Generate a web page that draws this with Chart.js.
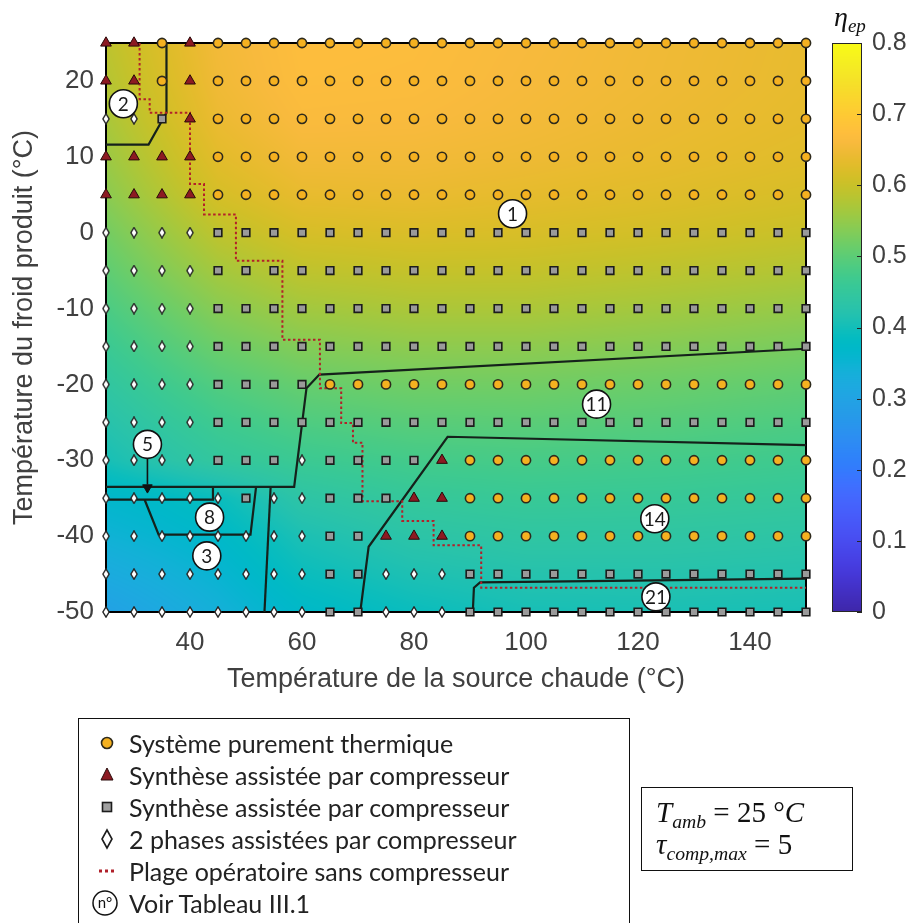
<!DOCTYPE html>
<html><head><meta charset="utf-8">
<script src="https://cdn.jsdelivr.net/npm/chart.js@4/dist/chart.umd.min.js"></script>
<style>
html,body{margin:0;padding:0;background:#fff;}
#wrap{position:relative;width:922px;height:923px;overflow:hidden;background:#fff;}
#c{position:absolute;left:0;top:0;}
#legend{position:absolute;left:78px;top:718px;width:552px;height:215px;border:1.5px solid #111;box-sizing:border-box;font-family:Lato,'Open Sans',sans-serif;font-size:25px;color:#222;}
#legend .it{position:absolute;left:0;height:32px;line-height:32px;white-space:nowrap;}
#legend svg{position:absolute;left:16px;top:4px;}
#legend span{position:absolute;left:50px;top:0;}
#note{position:absolute;left:641px;top:787px;width:212px;height:84px;border:1.5px solid #111;box-sizing:border-box;font-family:'Liberation Serif','DejaVu Serif',serif;font-size:29px;color:#111;}
#note div{position:absolute;left:14px;white-space:nowrap;}
.i{font-style:italic;}
sub{font-size:68%;vertical-align:-0.3em;line-height:0;}
#eta{position:absolute;left:834px;top:1px;font-family:'Liberation Serif','DejaVu Serif',serif;font-size:28px;font-style:italic;color:#111;}
</style></head>
<body><div id="wrap">
<canvas id="c" width="922" height="923"></canvas>
<div id="eta">η<sub>ep</sub></div>
<div id="legend">
 <div class="it" style="top:8px"><svg width="24" height="24"><circle cx="12" cy="12" r="5.5" fill="#f5b120" stroke="#2e2a1c" stroke-width="1.6"/></svg><span>Système purement thermique</span></div>
 <div class="it" style="top:40px"><svg width="24" height="24"><polygon points="12,5 18,17 6,17" fill="#8c1a22" stroke="#2a0a0a" stroke-width="1"/></svg><span>Synthèse assistée par compresseur</span></div>
 <div class="it" style="top:72px"><svg width="24" height="24"><rect x="7.5" y="7.5" width="9" height="9" fill="#a0a0a0" stroke="#1c1c1c" stroke-width="1.6"/></svg><span>Synthèse assistée par compresseur</span></div>
 <div class="it" style="top:104px"><svg width="24" height="24"><polygon points="12,3 17,12 12,21 7,12" fill="#fff" stroke="#1c1c1c" stroke-width="1.6"/></svg><span>2 phases assistées par compresseur</span></div>
 <div class="it" style="top:136px"><svg width="24" height="24"><line x1="4" y1="12" x2="21" y2="12" stroke="#b0202a" stroke-width="3" stroke-dasharray="3,3"/></svg><span>Plage opératoire sans compresseur</span></div>
 <div class="it" style="top:168px"><svg width="30" height="30" style="left:12px;top:1px"><circle cx="14" cy="15" r="12" fill="#fff" stroke="#111" stroke-width="1.5"/><text x="14" y="20" text-anchor="middle" font-family="Lato,sans-serif" font-size="15" fill="#111">n°</text></svg><span>Voir Tableau III.1</span></div>
</div>
<div id="note">
 <div style="top:8px"><span class="i">T</span><sub class="i">amb</sub> = 25 °<span class="i">C</span></div>
 <div style="top:40px"><span class="i">τ</span><sub class="i">comp,max</sub> = 5</div>
</div>
</div>
<script>
// ---------- DATA ----------
const tempChaude = [25,30,35,40,45,50,55,60,65,70,75,80,85,90,95,100,105,110,115,120,125,130,135,140,145,150];
const tempFroid = [25,20,15,10,5,0,-5,-10,-15,-20,-25,-30,-35,-40,-45,-50];
// C = purement thermique, T = synthese (triangle), S = synthese (carre), D = 2 phases
const markerRows = [
 "TTCTCCCCCCCCCCCCCCCCCCCCCC",
 "TTCTCCCCCCCCCCCCCCCCCCCCCC",
 "DDSTCCCCCCCCCCCCCCCCCCCCCC",
 "TTTTCCCCCCCCCCCCCCCCCCCCCC",
 "TTTTCCCCCCCCCCCCCCCCCCCCCC",
 "DDDDSSSSSSSSSSSSSSSSSSSSSS",
 "DDDDSSSSSSSSSSSSSSSSSSSSSS",
 "DDDDSSSSSSSSSSSSSSSSSSSSSS",
 "DDDDSSSSSSSSSSSSSSSSSSSSSS",
 "DDDDSSSSCCCCCCCCCCCCCCCCCC",
 "DDDDSSSSSSSSSSSSSSSSSSSSSS",
 "DDDDSSSDSSSSTCCCCCCCCCCCCC",
 "DDDDDSDDSSSTTCCCCCCCCCCCCC",
 "DDDDDDDDSSTTTCCCCCCCCCCCCC",
 "DDDDDDDDSSDDDSSSSSSSSSSSSS",
 "DDDDDDDDSSDDDSSSSSSSSSSSSS"
];
const xTicks = [40,60,80,100,120,140];
const yTicks = [-50,-40,-30,-20,-10,0,10,20];
const cbTicks = [0,0.1,0.2,0.3,0.4,0.5,0.6,0.7,0.8];
// eta_ep field (rows = tempFroid, cols = heatCols)
const heatCols = [25,35,45,60,80,100,125,150];
const etaGrid = [
 [0.588,0.622,0.652,0.672,0.670,0.660,0.648,0.637],
 [0.580,0.616,0.649,0.670,0.668,0.658,0.647,0.636],
 [0.570,0.607,0.642,0.664,0.662,0.654,0.643,0.633],
 [0.557,0.594,0.630,0.652,0.652,0.646,0.637,0.627],
 [0.542,0.578,0.614,0.637,0.640,0.634,0.626,0.616],
 [0.522,0.556,0.590,0.615,0.620,0.617,0.610,0.600],
 [0.503,0.535,0.565,0.590,0.597,0.596,0.588,0.578],
 [0.483,0.512,0.540,0.563,0.572,0.572,0.563,0.552],
 [0.463,0.490,0.515,0.536,0.545,0.545,0.537,0.527],
 [0.443,0.468,0.490,0.510,0.520,0.521,0.514,0.505],
 [0.424,0.447,0.468,0.487,0.497,0.499,0.494,0.486],
 [0.405,0.428,0.448,0.464,0.475,0.479,0.475,0.469],
 [0.365,0.376,0.392,0.435,0.453,0.459,0.457,0.452],
 [0.345,0.357,0.371,0.410,0.432,0.440,0.439,0.435],
 [0.322,0.337,0.354,0.392,0.412,0.422,0.423,0.420],
 [0.295,0.317,0.338,0.372,0.392,0.405,0.408,0.406]
];
// region boundaries (solid)
const zone2Line = [{x:35.8,y:25},{x:35.8,y:15.8},{x:32.6,y:11.6},{x:25,y:11.6}];
const zoneALine = [{x:25,y:-33.5},{x:58.6,y:-33.5},{x:60.8,y:-20.5},{x:63.1,y:-18.7},{x:150,y:-15.3}];
const zoneBLine = [{x:70.4,y:-50},{x:71.9,y:-41.4},{x:86.0,y:-26.9},{x:150,y:-28.0}];
const zoneCLine = [{x:90.5,y:-50},{x:90.7,y:-46.8},{x:91.8,y:-46.1},{x:150,y:-45.6}];
const zoneDLine = [{x:54.4,y:-33.5},{x:53.3,y:-50}];
const zone8Line = [{x:25,y:-35.2},{x:44.1,y:-35.2},{x:44.1,y:-33.5}];
const zone3Line = [{x:31.9,y:-35.2},{x:34.4,y:-39.8},{x:50.8,y:-39.8},{x:51.8,y:-33.5}];
// operating range without compressor (dotted)
const plageLine = [{x:31,y:25},{x:31,y:17.6},{x:32.8,y:17.6},{x:32.8,y:15.8},{x:40,y:15.8},{x:40,y:6.4},{x:42.5,y:6.4},{x:42.5,y:2.4},{x:48.2,y:2.4},{x:48.2,y:-3.7},{x:56.5,y:-3.7},{x:56.5,y:-14.1},{x:63.2,y:-14.1},{x:63.2,y:-20.5},{x:67,y:-20.5},{x:67,y:-25.1},{x:69.1,y:-25.1},{x:69.1,y:-27.7},{x:70.8,y:-27.7},{x:70.8,y:-35.4},{x:77.9,y:-35.4},{x:77.9,y:-38},{x:83.5,y:-38},{x:83.5,y:-41.2},{x:92,y:-41.2},{x:92,y:-46.8},{x:150,y:-46.8}];
// numbered labels (Voir Tableau III.1)
const labelNums = ['1','2','5','8','3','11','14','21'];
const labelX = [97.6,28.1,32.4,43.5,43.0,112.6,123.0,123.2];
const labelY = [2.5,17.0,-27.9,-37.5,-42.6,-22.6,-37.7,-48.0];
const arrowLine = [{x:32.4,y:-29.7},{x:32.4,y:-33.2}];
const arrowHead = [{x:32.4,y:-33.6}];

// ---------- STYLE ----------
const parula = [[0.2422,0.1504,0.6603],[0.2504,0.1650,0.7076],[0.2578,0.1818,0.7511],[0.2647,0.1978,0.7952],[0.2706,0.2147,0.8364],[0.2751,0.2342,0.8710],[0.2783,0.2559,0.8991],[0.2803,0.2782,0.9221],[0.2813,0.3006,0.9414],[0.2810,0.3228,0.9579],[0.2795,0.3447,0.9717],[0.2760,0.3667,0.9829],[0.2699,0.3892,0.9906],[0.2602,0.4123,0.9952],[0.2440,0.4358,0.9988],[0.2206,0.4603,0.9973],[0.1963,0.4847,0.9892],[0.1834,0.5074,0.9798],[0.1786,0.5289,0.9682],[0.1764,0.5499,0.9520],[0.1687,0.5703,0.9359],[0.1540,0.5902,0.9218],[0.1460,0.6091,0.9079],[0.1380,0.6276,0.8973],[0.1248,0.6459,0.8883],[0.1113,0.6635,0.8763],[0.0952,0.6798,0.8598],[0.0689,0.6948,0.8394],[0.0297,0.7082,0.8163],[0.0036,0.7203,0.7917],[0.0067,0.7312,0.7660],[0.0433,0.7411,0.7394],[0.0964,0.7500,0.7120],[0.1408,0.7584,0.6842],[0.1717,0.7670,0.6554],[0.1938,0.7758,0.6251],[0.2161,0.7843,0.5923],[0.2470,0.7918,0.5567],[0.2906,0.7973,0.5188],[0.3406,0.8008,0.4789],[0.3909,0.8029,0.4354],[0.4456,0.8024,0.3909],[0.5044,0.7993,0.3480],[0.5616,0.7942,0.3045],[0.6174,0.7876,0.2612],[0.6720,0.7793,0.2227],[0.7242,0.7698,0.1910],[0.7738,0.7598,0.1646],[0.8203,0.7498,0.1535],[0.8634,0.7406,0.1596],[0.9035,0.7330,0.1774],[0.9393,0.7288,0.2100],[0.9728,0.7298,0.2394],[0.9956,0.7434,0.2371],[0.9970,0.7659,0.2199],[0.9952,0.7893,0.2028],[0.9892,0.8136,0.1885],[0.9786,0.8386,0.1766],[0.9676,0.8639,0.1643],[0.9610,0.8890,0.1537],[0.9597,0.9135,0.1423],[0.9628,0.9373,0.1265],[0.9691,0.9606,0.1064],[0.9769,0.9839,0.0805]];
const ETA_MAX = 0.8;
function cmap(v){
  let t = Math.max(0, Math.min(1, v/ETA_MAX))*63;
  const i = Math.min(62, Math.floor(t)), f = t - i;
  const a = parula[i], b = parula[i+1];
  return [0,1,2].map(k => Math.round(255*(a[k]+(b[k]-a[k])*f)));
}
function etaAt(tc, tf){
  // bilinear shading between the read grid values
  let j = 0; while (j < heatCols.length-2 && tc > heatCols[j+1]) j++;
  let fx = (tc - heatCols[j])/(heatCols[j+1]-heatCols[j]); fx = Math.max(0,Math.min(1,fx));
  let i = 0; while (i < tempFroid.length-2 && tf < tempFroid[i+1]) i++;
  let fy = (tempFroid[i]-tf)/(tempFroid[i]-tempFroid[i+1]); fy = Math.max(0,Math.min(1,fy));
  const g = etaGrid;
  const top = g[i][j]+(g[i][j+1]-g[i][j])*fx, bot = g[i+1][j]+(g[i+1][j+1]-g[i+1][j])*fx;
  return top + (bot-top)*fy;
}

function diamondCanvas(w,h,lw){
  const c = document.createElement('canvas'); c.width=w; c.height=h;
  const g = c.getContext('2d');
  g.beginPath(); g.moveTo(w/2,lw/2+0.2); g.lineTo(w-lw/2-0.2,h/2); g.lineTo(w/2,h-lw/2-0.2); g.lineTo(lw/2+0.2,h/2); g.closePath();
  g.fillStyle='#ffffff'; g.fill(); g.lineWidth=lw; g.strokeStyle='#262626'; g.stroke();
  return c;
}
const diamondImg = diamondCanvas(8,12,1.4);

const typeStyle = {
  C:{style:'circle', r:4.6, bg:'#f5b120', bd:'#2e2a1c', bw:1.6},
  T:{style:'triangle', r:6.2, bg:'#8c1a22', bd:'#2a0a0a', bw:1},
  S:{style:'rect', r:5.4, bg:'#9a9a9a', bd:'#1c1c1c', bw:1.6},
  D:{style:diamondImg, r:6, bg:'#fff', bd:'#262626', bw:1.4}
};
const pts = {C:[],T:[],S:[],D:[]};
markerRows.forEach((row,i)=>{ for (let j=0;j<row.length;j++) pts[row[j]].push({x:tempChaude[j], y:tempFroid[i]}); });

const lineDs = (data, color, width, dash, order) => ({data, showLine:true, borderColor:color, borderWidth:width, borderDash:dash||[], pointRadius:0, fill:false, tension:0, order, xAxisID:'x', yAxisID:'y', clip:false});
const datasets = [];
[zone2Line,zoneALine,zoneBLine,zoneCLine,zoneDLine,zone8Line,zone3Line].forEach(d=>datasets.push(lineDs(d,'#15211b',2.2,null,30)));
datasets.push(lineDs(plageLine,'#b3202a',2,[2.5,2.5],25));
['D','S','T','C'].forEach(k=>{
  const s = typeStyle[k];
  datasets.push({data:pts[k], pointStyle:s.style, pointRadius:s.r, pointHoverRadius:s.r, pointBackgroundColor:s.bg, pointBorderColor:s.bd, pointBorderWidth:s.bw, showLine:false, order:10, clip:false, xAxisID:'x', yAxisID:'y'});
});
datasets.push(lineDs(arrowLine,'#111',1.6,null,6));
datasets.push({data:arrowHead, pointStyle:'triangle', rotation:180, pointRadius:5.5, pointBackgroundColor:'#111', pointBorderColor:'#111', pointBorderWidth:1, order:5, clip:false, xAxisID:'x', yAxisID:'y'});
datasets.push({data:labelX.map((x,i)=>({x, y:labelY[i]})), pointStyle:'circle', pointRadius:14, pointBackgroundColor:'#fff', pointBorderColor:'#111', pointBorderWidth:1.6, order:1, clip:false, xAxisID:'x', yAxisID:'y'});

const heatPlugin = {
  id:'heat',
  beforeDatasetsDraw(chart){
    const {ctx, chartArea:a, scales:{x,y,cb}} = chart;
    const w = Math.round(a.right-a.left), h = Math.round(a.bottom-a.top);
    if (!chart.$heat){
      const off = document.createElement('canvas'); off.width=w; off.height=h;
      const o = off.getContext('2d'); const img = o.createImageData(w,h);
      for (let py=0; py<h; py++){
        const tf = y.getValueForPixel(a.top+py+0.5);
        for (let px=0; px<w; px++){
          const tc = x.getValueForPixel(a.left+px+0.5);
          const c = cmap(etaAt(tc,tf)); const k=(py*w+px)*4;
          img.data[k]=c[0]; img.data[k+1]=c[1]; img.data[k+2]=c[2]; img.data[k+3]=255;
        }
      }
      o.putImageData(img,0,0); chart.$heat = off;
    }
    ctx.drawImage(chart.$heat, a.left, a.top);
    // colour bar
    const bx0 = 832, bx1 = 862;
    for (let py=Math.round(cb.top); py<Math.round(cb.bottom); py++){
      const c = cmap(cb.getValueForPixel(py+0.5));
      ctx.fillStyle = `rgb(${c[0]},${c[1]},${c[2]})`; ctx.fillRect(bx0, py, bx1-bx0, 1);
    }
    ctx.save(); ctx.strokeStyle='#262626'; ctx.lineWidth=1;
    ctx.strokeRect(bx0+0.5, cb.top+0.5, bx1-bx0-1, cb.bottom-cb.top-1);
    cbTicks.forEach(v=>{ const p=Math.round(cb.getPixelForValue(v))+0.5; ctx.beginPath(); ctx.moveTo(bx1-5,p); ctx.lineTo(bx1,p); ctx.stroke(); });
    // axes box
    ctx.strokeStyle='#000'; ctx.lineWidth=2;
    ctx.strokeRect(a.left, a.top, a.right-a.left, a.bottom-a.top);
    ctx.restore();
  },
  afterDatasetsDraw(chart){
    const {ctx, scales:{x,y}} = chart;
    ctx.save(); ctx.fillStyle='#1a1a1a'; ctx.font='19px Lato, sans-serif'; ctx.textAlign='center'; ctx.textBaseline='middle';
    labelNums.forEach((n,i)=>ctx.fillText(n, x.getPixelForValue(labelX[i]), y.getPixelForValue(labelY[i])+1));
    ctx.restore();
  }
};

const axisFont = {family:"'Liberation Sans', Arial, sans-serif", size:26};
new Chart(document.getElementById('c'), {
  type:'scatter',
  data:{datasets},
  plugins:[heatPlugin],
  options:{
    responsive:false, animation:false, devicePixelRatio:1,
    layout:{padding:{top:43,left:0,right:0,bottom:227}},
    plugins:{legend:{display:false}, tooltip:{enabled:false}},
    events:[],
    scales:{
      x:{type:'linear', position:'bottom', min:25, max:150,
         grid:{display:false, drawTicks:false}, border:{display:false},
         afterBuildTicks:s=>{ s.ticks = xTicks.map(v=>({value:v})); },
         afterFit:s=>{ s.height = 84; s.paddingLeft = 0; s.paddingRight = 0; },
         ticks:{padding:15, color:'#404040', font:axisFont, maxRotation:0, callback:v=>String(v)},
         title:{display:true, text:'Température de la source chaude (°C)', color:'#404040', font:{family:axisFont.family, size:27}, padding:{top:0,bottom:0}}},
      y:{type:'linear', position:'left', min:-50, max:25,
         grid:{display:false, drawTicks:false}, border:{display:false},
         afterBuildTicks:s=>{ s.ticks = yTicks.map(v=>({value:v})); },
         afterFit:s=>{ s.width = 106; s.paddingTop = 0; s.paddingBottom = 0; },
         ticks:{padding:12, color:'#404040', font:axisFont, callback:v=>String(v)},
         title:{display:true, text:'Température du froid produit (°C)', color:'#404040', font:{family:axisFont.family, size:27}, padding:{top:8,bottom:0}}},
      cb:{type:'linear', position:'right', min:0, max:ETA_MAX,
         grid:{display:false, drawTicks:false}, border:{display:false},
         afterBuildTicks:s=>{ s.ticks = cbTicks.map(v=>({value:v})); },
         afterFit:s=>{ s.width = 116; s.paddingTop = 0; s.paddingBottom = 0; },
         ticks:{padding:66, color:'#404040', font:{family:axisFont.family, size:25}, callback:v=>v===0?'0':v.toFixed(1)}}
    }
  }
});
</script>
</body></html>
